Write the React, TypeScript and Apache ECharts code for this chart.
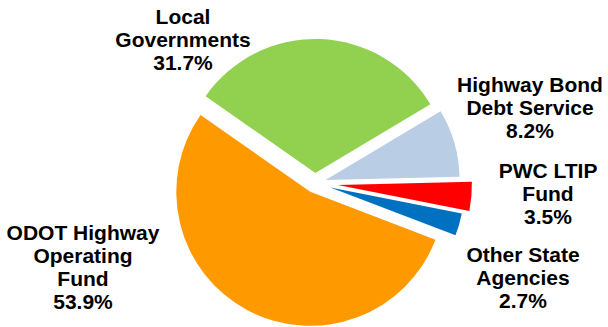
import React, { useEffect, useRef } from "react";
import * as echarts from "echarts";

// Slices in clockwise order starting at the Local Governments / ODOT boundary
const categories = [
  "Local\nGovernments",
  "Highway Bond\nDebt Service",
  "PWC LTIP\nFund",
  "Other State\nAgencies",
  "ODOT Highway\nOperating\nFund",
];
const shares = [31.7, 8.2, 3.5, 2.7, 53.9];

// presentation
const colors = ["#92D050", "#B9CDE5", "#FF0000", "#0070C0", "#FF9900"];
const explode = [10, 11, 23, 16, 10];
const labelAnchors: [number, number][] = [
  [183, 39],
  [530, 107],
  [548, 193],
  [523, 277],
  [83, 267],
];

export default function App() {
  const ref = useRef<HTMLDivElement>(null);
  useEffect(() => {
    if (!ref.current) return;
    const chart = echarts.init(ref.current, undefined, { renderer: "svg" });
    const series = categories.map((_, i) => ({
      type: "pie" as const,
      center: [315, 183],
      radius: 134,
      startAngle: 145,
      clockwise: true,
      selectedMode: "multiple" as const,
      selectedOffset: explode[i],
      silent: true,
      emphasis: { disabled: true },
      labelLine: { show: false },
      label: { show: false },
      data: shares.map((v, j) => ({
        value: v,
        name: categories[j],
        selected: j === i,
        itemStyle: { color: j === i ? colors[j] : "rgba(0,0,0,0)" },
      })),
    }));
    const graphic = categories.map((c, j) => ({
      type: "text" as const,
      x: labelAnchors[j][0],
      y: labelAnchors[j][1],
      silent: true,
      style: {
        text: `${c}\n${shares[j]}%`,
        fill: "#000",
        font: 'bold 21px "Liberation Sans", Arial, sans-serif',
        align: "center",
        verticalAlign: "middle",
        lineHeight: 23,
      },
    }));
    chart.setOption({ animation: false, series, graphic });
    return () => chart.dispose();
  }, []);
  return (
    <div
      ref={ref}
      style={{ position: "absolute", left: 0, top: 0, width: 608, height: 327 }}
    />
  );
}
